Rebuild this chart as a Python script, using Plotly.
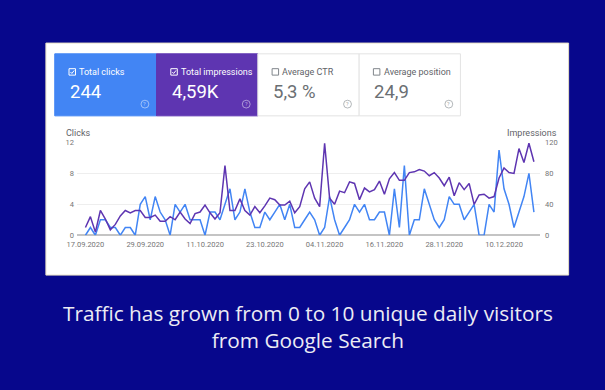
import plotly.graph_objects as go
import pandas as pd

# ---------------- data ----------------
start_date = "2020-09-17"
clicks = [0, 1, 0, 2, 2, 1, 1, 0, 1, 1,
          0, 4, 5, 2, 5, 3, 2, 0, 4, 3,
          4, 2, 2, 2, 0, 3, 3, 2, 4, 6,
          2, 3, 6, 3, 1, 1, 3, 2, 3, 4,
          2, 4, 1, 1, 2, 3, 2, 0, 1, 5,
          2, 0, 1, 2, 4, 3, 4, 2, 2, 3,
          3, 0, 6, 1, 9, 0, 2, 2, 6, 4,
          2, 1, 2, 5, 4, 4, 2, 3, 4, 0,
          0, 4, 3, 11, 6, 4, 1, 3, 5, 8, 3]
impressions = [10, 24, 4, 32, 21, 7, 14, 25, 32, 29,
               32, 32, 23, 23, 26, 18, 18, 24, 20, 30,
               21, 15, 28, 30, 39, 29, 21, 29, 90, 32,
               32, 47, 32, 26, 37, 29, 38, 48, 46, 39,
               39, 44, 29, 37, 60, 69, 48, 37, 119, 48,
               40, 57, 55, 69, 67, 46, 61, 56, 59, 70,
               53, 73, 81, 71, 71, 81, 82, 85, 83, 77,
               81, 74, 64, 75, 51, 68, 59, 67, 40, 52,
               53, 48, 50, 74, 87, 81, 80, 112, 94, 119, 95]
clicks_ticks = [0, 4, 8, 12]
impr_ticks = [0, 40, 80, 120]
tick_every_days = 12

metric_names = ["Total clicks", "Total impressions", "Average CTR", "Average position"]
metric_values = ["244", "4,59K", "5,3 %", "24,9"]
metric_selected = [True, True, False, False]
caption = "Traffic has grown from 0 to 10 unique daily visitors<br>from Google Search"

# ---------------- helpers ----------------
W, H = 605, 390
def fx(x):
    return x / W
def fy(y):
    return 1 - y / H

dates = pd.date_range(start_date, periods=len(clicks), freq="D")
tick_dates = dates[::tick_every_days]
tick_text = [d.strftime("%d.%m.%Y") for d in tick_dates]

# plot area in pixels
PL, PR, PT, PB = 68, 539, 141.7, 236.7
first_px, px_per_day = 76.7, 5.067
x0 = dates[0] - pd.Timedelta(days=(first_px - PL) / px_per_day)
x1 = dates[0] + pd.Timedelta(days=(PR - first_px) / px_per_day)

BLUE = "#4285F4"
PURPLE = "#5E35B1"
NAVY = "#07078c"
GREY_TXT = "#5f6368"

fig = go.Figure()
fig.add_trace(go.Scatter(x=dates, y=impressions, mode="lines", yaxis="y2",
                         line=dict(color=PURPLE, width=1.5), name="Impressions",
                         hoverinfo="skip"))
fig.add_trace(go.Scatter(x=dates, y=clicks, mode="lines", yaxis="y",
                         line=dict(color=BLUE, width=1.5), name="Clicks",
                         hoverinfo="skip"))

shapes = []
annotations = []

# white card
shapes.append(dict(type="rect", xref="paper", yref="paper", layer="below",
                   x0=fx(36.5), x1=fx(568), y0=fy(277.5), y1=fy(40),
                   fillcolor="white", line=dict(color="#e6dfc4", width=1)))

# metric tiles
tile_x = [45.5, 149, 252, 355, 458]
tile_top, tile_bot = 51, 114.5
tile_fill = [BLUE, PURPLE, "white", "white"]
for i, name in enumerate(metric_names):
    xa, xb = tile_x[i], tile_x[i + 1]
    sel = metric_selected[i]
    shapes.append(dict(type="rect", xref="paper", yref="paper", layer="below",
                       x0=fx(xa), x1=fx(xb), y0=fy(tile_bot), y1=fy(tile_top),
                       fillcolor=tile_fill[i],
                       line=dict(color=tile_fill[i] if sel else "#e3e3e3", width=1)))
    txtc = "white" if sel else GREY_TXT
    cx0, cy0 = xa + 14.5, 66.2
    shapes.append(dict(type="rect", xref="paper", yref="paper",
                       x0=fx(cx0), x1=fx(cx0 + 6.6), y0=fy(cy0 + 6.6), y1=fy(cy0),
                       line=dict(color="white" if sel else "#80868b", width=1)))
    if sel:
        path = (f"M {fx(cx0+1.5)} {fy(cy0+3.4)} L {fx(cx0+2.9)} {fy(cy0+4.9)} "
                f"L {fx(cx0+5.3)} {fy(cy0+1.8)}")
        shapes.append(dict(type="path", xref="paper", yref="paper", path=path,
                           line=dict(color="white", width=1)))
    annotations.append(dict(xref="paper", yref="paper", x=fx(cx0 + 8.3), y=fy(69.6),
                            xanchor="left", yanchor="middle", showarrow=False,
                            text=name, font=dict(family="Roboto", size=9, color=txtc)))
    annotations.append(dict(xref="paper", yref="paper", x=fx(xa + 13.5), y=fy(90),
                            xanchor="left", yanchor="middle", showarrow=False,
                            text=metric_values[i],
                            font=dict(family="Roboto", size=18.5,
                                      color="white" if sel else "#6b6f73")))
    hx, hy = xb - 11.8, 102.5
    hc = "rgba(255,255,255,0.6)" if sel else "#a0a4a8"
    shapes.append(dict(type="circle", xref="paper", yref="paper",
                       x0=fx(hx - 4), x1=fx(hx + 4), y0=fy(hy + 4), y1=fy(hy - 4),
                       line=dict(color=hc, width=0.8)))
    annotations.append(dict(xref="paper", yref="paper", x=fx(hx), y=fy(hy),
                            xanchor="center", yanchor="middle", showarrow=False,
                            text="?", font=dict(family="Roboto", size=5.5, color=hc)))

annotations.append(dict(xref="paper", yref="paper", x=fx(55), y=fy(132.5),
                        xanchor="left", yanchor="middle", showarrow=False,
                        text="Clicks", font=dict(family="Roboto", size=9, color=GREY_TXT)))
annotations.append(dict(xref="paper", yref="paper", x=fx(558.5), y=fy(132.5),
                        xanchor="right", yanchor="middle", showarrow=False,
                        text="Impressions", font=dict(family="Roboto", size=9, color=GREY_TXT)))

annotations.append(dict(xref="paper", yref="paper", x=0.5, y=fy(330.5),
                        xanchor="center", yanchor="middle", showarrow=False,
                        text=caption, align="center",
                        font=dict(family="Open Sans", size=20.8, color="#ececf4")))

tickfont = dict(family="Roboto", size=7.5, color="#757575")
fig.update_layout(
    width=W, height=H,
    margin=dict(l=0, r=0, t=0, b=0),
    paper_bgcolor=NAVY, plot_bgcolor="white",
    showlegend=False,
    shapes=shapes, annotations=annotations,
    xaxis=dict(domain=[fx(PL), fx(PR)], type="date", range=[x0, x1],
               tickvals=list(tick_dates), ticktext=tick_text, tickfont=tickfont,
               showgrid=False, zeroline=False, showline=False, ticks="",
               ticklabelstandoff=3, fixedrange=True),
    yaxis=dict(domain=[fy(PB), fy(PT)], range=[0, 12], tickvals=clicks_ticks,
               tickfont=tickfont, showgrid=True, gridcolor="#eeeeee", gridwidth=1,
               zeroline=True, zerolinecolor="#c4c4c4", zerolinewidth=1.5,
               showline=False, ticks="", ticklabelstandoff=2),
    yaxis2=dict(overlaying="y", side="right", range=[0, 120], tickvals=impr_ticks,
                tickfont=tickfont, showgrid=False, zeroline=False, showline=False,
                ticks="", ticklabelstandoff=4),
)

page_style = ("document.body.style.margin='0';"
              "document.body.style.overflow='hidden';"
              "document.body.style.background='" + NAVY + "';")
fig.write_html("out.html", post_script=page_style,
               config={"displayModeBar": False})
